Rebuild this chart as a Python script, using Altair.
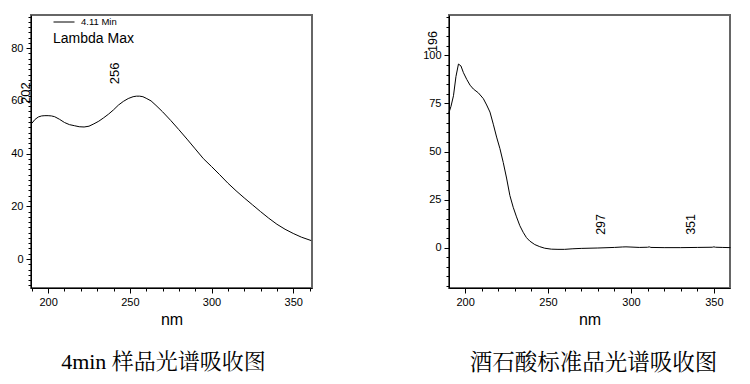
import altair as alt
import pandas as pd

# ---- data ----
left_nm = [190, 192, 194, 196, 198, 200, 202, 204, 207, 210, 213, 216, 219, 222, 225,
           228, 231, 234, 237, 240, 243, 246, 249, 252, 254, 256, 258, 260, 263, 266,
           270, 275, 280, 285, 290, 295, 300, 305, 310, 315, 320, 325, 330, 335, 340,
           345, 350, 355, 361]
left_abs = [51.5, 53.0, 53.9, 54.3, 54.4, 54.4, 54.3, 54.0, 53.0, 51.8, 51.0, 50.6, 50.2, 50.1, 50.4,
            51.3, 52.3, 53.6, 55.0, 56.6, 58.4, 59.8, 60.9, 61.6, 61.8, 61.8, 61.6, 61.0, 60.0, 58.3,
            55.9, 52.6, 49.1, 45.5, 41.8, 38.1, 35.1, 32.0, 28.8, 25.9, 23.2, 20.6, 18.0, 15.5, 13.2,
            11.3, 9.7, 8.3, 7.0]

right_nm = [190, 191.5, 193, 194.5, 196, 197.5, 199, 201, 203, 205, 208, 211, 213, 215, 217,
            219, 221, 223, 225, 227, 229, 231, 233, 235, 237, 239, 242, 245, 248, 252,
            256, 260, 265, 270, 280, 290, 295, 297, 300, 305, 310, 311, 312, 320, 330,
            340, 349, 350, 351, 355, 360]
right_abs = [69.5, 73.5, 79.0, 89.0, 95.5, 94.5, 91.0, 87.5, 84.5, 82.5, 80.5, 77.5, 74.2, 70.5, 64.2,
             57.5, 51.5, 44.3, 36.2, 27.1, 21.0, 16.0, 11.4, 8.0, 5.2, 3.4, 1.6, 0.5, -0.3, -0.8,
             -0.9, -0.9, -0.6, -0.4, -0.2, 0.1, 0.35, 0.4, 0.3, 0.1, 0.2, 0.4, 0.1, 0.0, 0.0,
             0.1, 0.2, 0.4, 0.2, 0.1, 0.0]

left_peak_nm = [202, 256]
left_peak_abs = [54.3, 61.8]
right_peak_nm = [196, 297, 351]
right_peak_abs = [95.5, 0.4, 0.4]

left_series = "4.11 Min"
legend_title = "Lambda Max"
x_title = "nm"
left_caption = "4min 样品光谱吸收图"
right_caption = "酒石酸标准品光谱吸收图"

x_major = [200, 250, 300, 350]
x_minor = list(range(190, 361, 10))
left_y_major = [0, 20, 40, 60, 80]
left_y_minor = list(range(-10, 93, 2))
right_y_major = [0, 25, 50, 75, 100]
right_y_minor = list(range(-20, 121, 5))

SANS = "Liberation Sans"
CAPTION_FONT = "Liberation Serif, Noto Serif CJK SC, Noto Sans CJK SC"

df_left = pd.DataFrame({"nm": left_nm, "abs": left_abs, "series": left_series})
df_right = pd.DataFrame({"nm": right_nm, "abs": right_abs})
df_lp = pd.DataFrame({"nm": left_peak_nm, "abs": left_peak_abs, "label": [str(v) for v in left_peak_nm]})
df_rp = pd.DataFrame({"nm": right_peak_nm, "abs": right_peak_abs, "label": [str(v) for v in right_peak_nm]})


def x_major_enc(domain):
    return alt.X(
        "nm:Q",
        scale=alt.Scale(domain=domain, nice=False, zero=False),
        axis=alt.Axis(
            title=x_title, values=x_major, orient="bottom", tickSize=5,
            labelFlush=False, labelOverlap=False, labelPadding=3, titlePadding=4,
        ),
    )


def x_minor_enc():
    return alt.X(
        "nm:Q",
        axis=alt.Axis(title=None, values=x_minor, orient="bottom", tickSize=3,
                      labels=False, domain=False),
    )


def y_major_enc(domain, ticks):
    return alt.Y(
        "abs:Q",
        scale=alt.Scale(domain=domain, nice=False, zero=False),
        axis=alt.Axis(title=None, values=ticks, orient="left", tickSize=5,
                      labelPadding=3, labelOverlap=False),
    )


def y_minor_enc(ticks):
    return alt.Y(
        "abs:Q",
        axis=alt.Axis(title=None, values=ticks, orient="left", tickSize=3,
                      labels=False, domain=False),
    )


left_line = alt.Chart(df_left).mark_line(strokeWidth=1).encode(
    x=x_major_enc([189.5, 361.5]),
    y=y_major_enc([-11, 92.6], left_y_major),
    color=alt.Color(
        "series:N",
        scale=alt.Scale(range=["black"]),
        legend=alt.Legend(
            title=legend_title, titleOrient="bottom", orient="none",
            legendX=22, legendY=-4, padding=0,
            symbolType="stroke", symbolSize=441, symbolStrokeWidth=1,
            labelFont=SANS, labelFontSize=9.5, labelOffset=6,
            titleFont=SANS, titleFontSize=14, titleFontWeight="normal",
            titleColor="black", labelColor="black", titlePadding=5,
        ),
    ),
)
left_text = alt.Chart(df_lp).mark_text(
    angle=270, align="left", baseline="middle", dx=12, dy=-25,
    fontSize=13, font=SANS, color="black",
).encode(x=x_minor_enc(), y=y_minor_enc(left_y_minor), text="label:N")

right_line = alt.Chart(df_right).mark_line(strokeWidth=1, color="black").encode(
    x=x_major_enc([190.3, 359.7]),
    y=y_major_enc([-21, 121], right_y_major),
)
right_text = alt.Chart(df_rp).mark_text(
    angle=270, align="left", baseline="middle", dx=12, dy=-25,
    fontSize=12.5, font=SANS, color="black",
).encode(x=x_minor_enc(), y=y_minor_enc(right_y_minor), text="label:N")

left = alt.layer(left_line, left_text).resolve_axis(
    x="independent", y="independent"
).properties(
    width=281, height=273,
    title=alt.TitleParams(left_caption, orient="bottom", font=CAPTION_FONT, fontSize=22,
                          fontWeight="normal", color="black", offset=25, dx=-8),
)
right = alt.layer(right_line, right_text).resolve_axis(
    x="independent", y="independent"
).properties(
    width=281, height=273,
    title=alt.TitleParams(right_caption, orient="bottom", font=CAPTION_FONT, fontSize=22.5,
                          fontWeight="normal", color="black", offset=25, dx=4),
)

chart = alt.hconcat(left, right, spacing=106).properties(
    padding={"left": 1, "top": 3, "right": 0, "bottom": 0}
).configure_view(
    stroke="#666", strokeWidth=2
).configure_axis(
    grid=False, domainColor="black", tickColor="black", labelColor="black",
    labelFont=SANS, labelFontSize=11, titleFont=SANS, titleFontSize=16,
    titleFontWeight="normal", titleColor="black", domainWidth=1, tickWidth=1,
)

chart.save("out.html", embed_options={"renderer": "svg", "actions": False})
